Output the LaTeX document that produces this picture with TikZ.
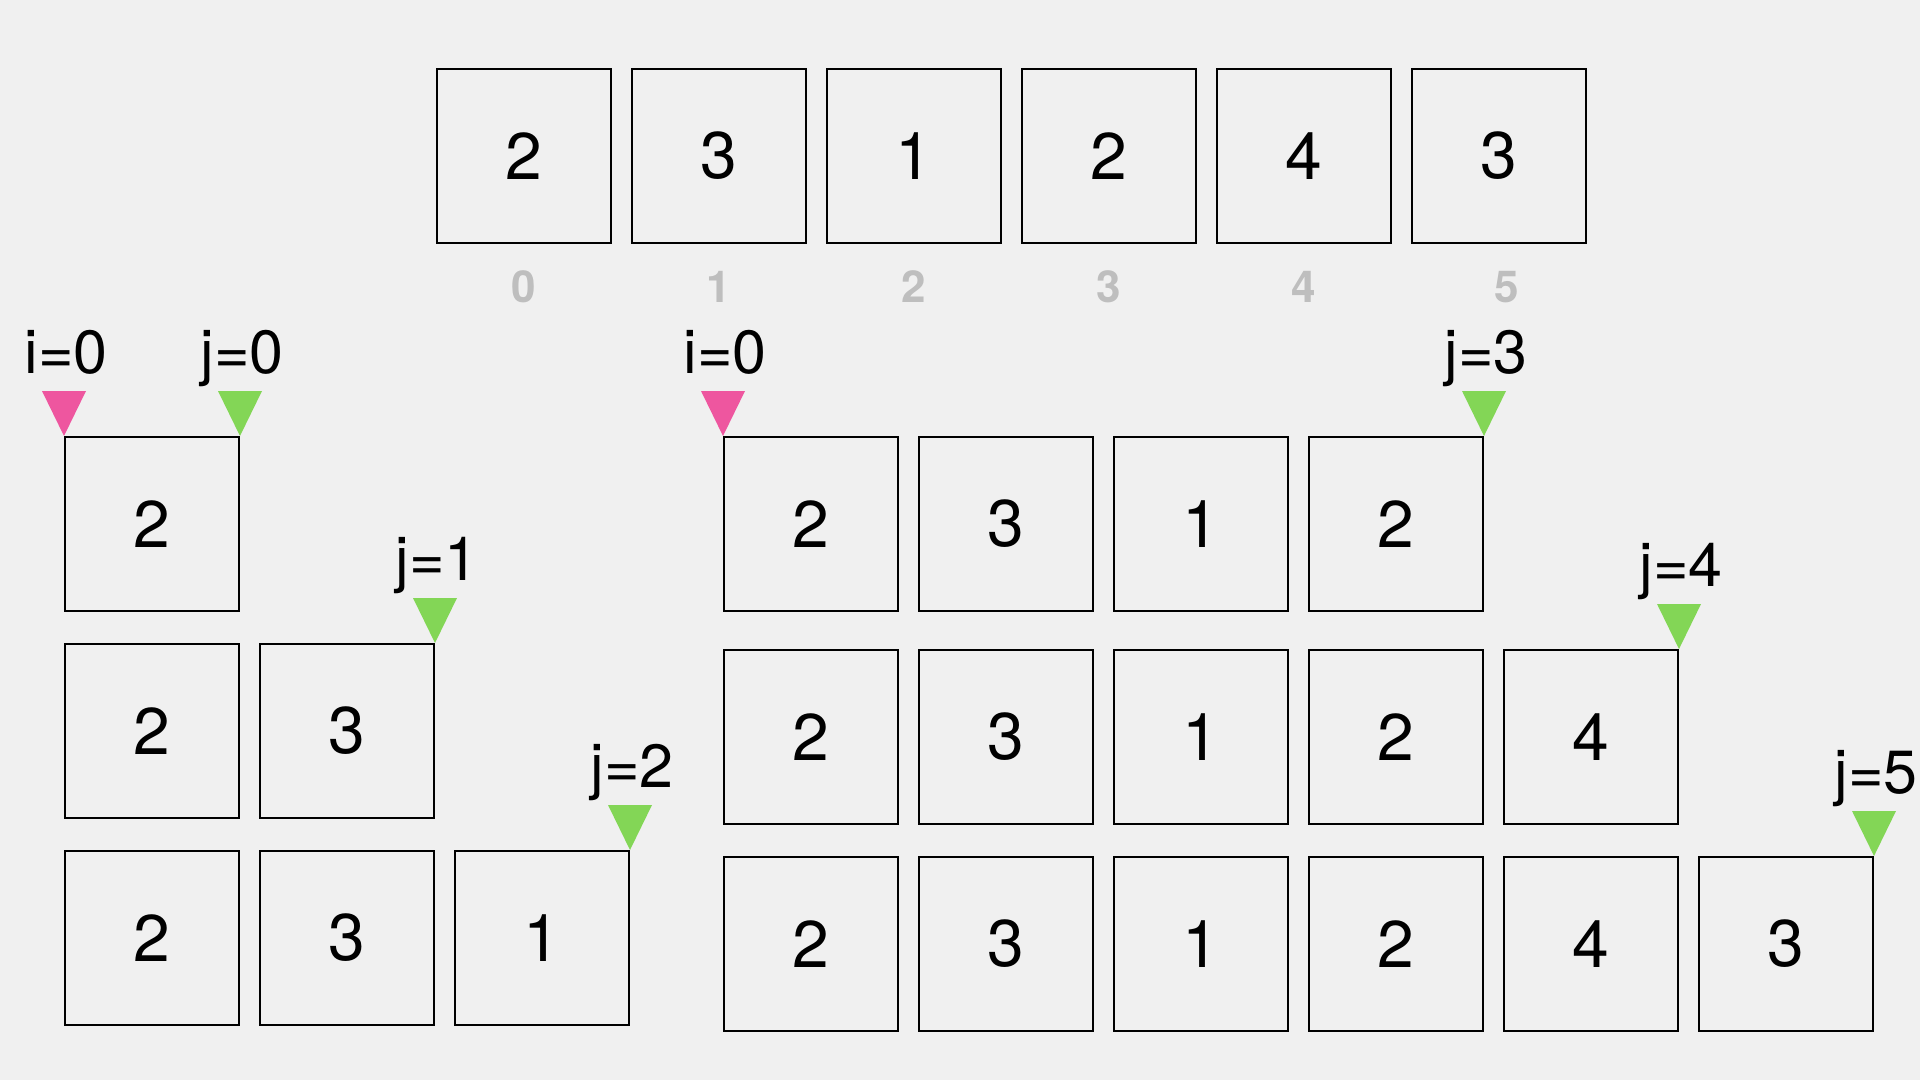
\documentclass[tikz,border=0pt]{standalone}
\usepackage{fontspec}
\setmainfont{TeX Gyre Heros}
\usetikzlibrary{positioning,calc}
\definecolor{bg}{HTML}{F0F0F0}
\definecolor{ipink}{HTML}{EE569F}
\definecolor{jgreen}{HTML}{83D656}
\definecolor{idxgray}{HTML}{BEBEBE}
\tikzstyle{cell} = [draw, line width=1pt, minimum size=87pt, inner sep=0pt, font=\fontsize{33}{36}\selectfont]
\tikzstyle{idx} = [text=idxgray, inner sep=0pt, font=\fontsize{22}{24}\selectfont\bfseries]
\tikzstyle{lbl} = [anchor=base, inner sep=0pt, font=\fontsize{30.5}{34}\selectfont]
% pointer: name, colour, box corner, text
\newcommand{\pointer}[4]{%
  \fill[#2] (#3) -- ++(-22,-45) -- ++(44,0) -- cycle;
  \node (#1) [lbl] at ($(#3)+(2,-63)$) {#4};}

\begin{document}
\begin{tikzpicture}[x=0.5pt, y=-0.5pt, node distance=97.5pt]
	\fill[bg] (0,0) rectangle (1920,1080);
	\useasboundingbox (0,0) rectangle (1920,1080);
	% the array
	\node (a0) [cell] at (523.5,156) {2};
	\node (a1) [cell, right of=a0] {3};
	\node (a2) [cell, right of=a1] {1};
	\node (a3) [cell, right of=a2] {2};
	\node (a4) [cell, right of=a3] {4};
	\node (a5) [cell, right of=a4] {3};
	\node (n0) [idx, below of=a0, node distance=65.5pt] {0};
	\node (n1) [idx, below of=a1, node distance=65.5pt] {1};
	\node (n2) [idx, below of=a2, node distance=65.5pt] {2};
	\node (n3) [idx, below of=a3, node distance=65.5pt] {3};
	\node (n4) [idx, below of=a4, node distance=65.5pt] {4};
	\node (n5) [idx, below of=a5, node distance=65.5pt, xshift=4pt] {5};
	% left: i=0
	\node (l1a) [cell] at (152,524) {2};
	\node (l2a) [cell] at (152,731) {2};
	\node (l2b) [cell, right of=l2a] {3};
	\node (l3a) [cell] at (152,938) {2};
	\node (l3b) [cell, right of=l3a] {3};
	\node (l3c) [cell, right of=l3b] {1};
	\pointer{li}{ipink}{l1a.north west}{i=0}
	\pointer{lj0}{jgreen}{l1a.north east}{j=0}
	\pointer{lj1}{jgreen}{l2b.north east}{j=1}
	\pointer{lj2}{jgreen}{l3c.north east}{j=2}
	% right: i=0
	\node (r1a) [cell] at (811,524) {2};
	\node (r1b) [cell, right of=r1a] {3};
	\node (r1c) [cell, right of=r1b] {1};
	\node (r1d) [cell, right of=r1c] {2};
	\node (r2a) [cell] at (811,737) {2};
	\node (r2b) [cell, right of=r2a] {3};
	\node (r2c) [cell, right of=r2b] {1};
	\node (r2d) [cell, right of=r2c] {2};
	\node (r2e) [cell, right of=r2d] {4};
	\node (r3a) [cell] at (811,944) {2};
	\node (r3b) [cell, right of=r3a] {3};
	\node (r3c) [cell, right of=r3b] {1};
	\node (r3d) [cell, right of=r3c] {2};
	\node (r3e) [cell, right of=r3d] {4};
	\node (r3f) [cell, right of=r3e] {3};
	\pointer{ri}{ipink}{r1a.north west}{i=0}
	\pointer{rj3}{jgreen}{r1d.north east}{j=3}
	\pointer{rj4}{jgreen}{r2e.north east}{j=4}
	\pointer{rj5}{jgreen}{r3f.north east}{j=5}
\end{tikzpicture}
\end{document}
